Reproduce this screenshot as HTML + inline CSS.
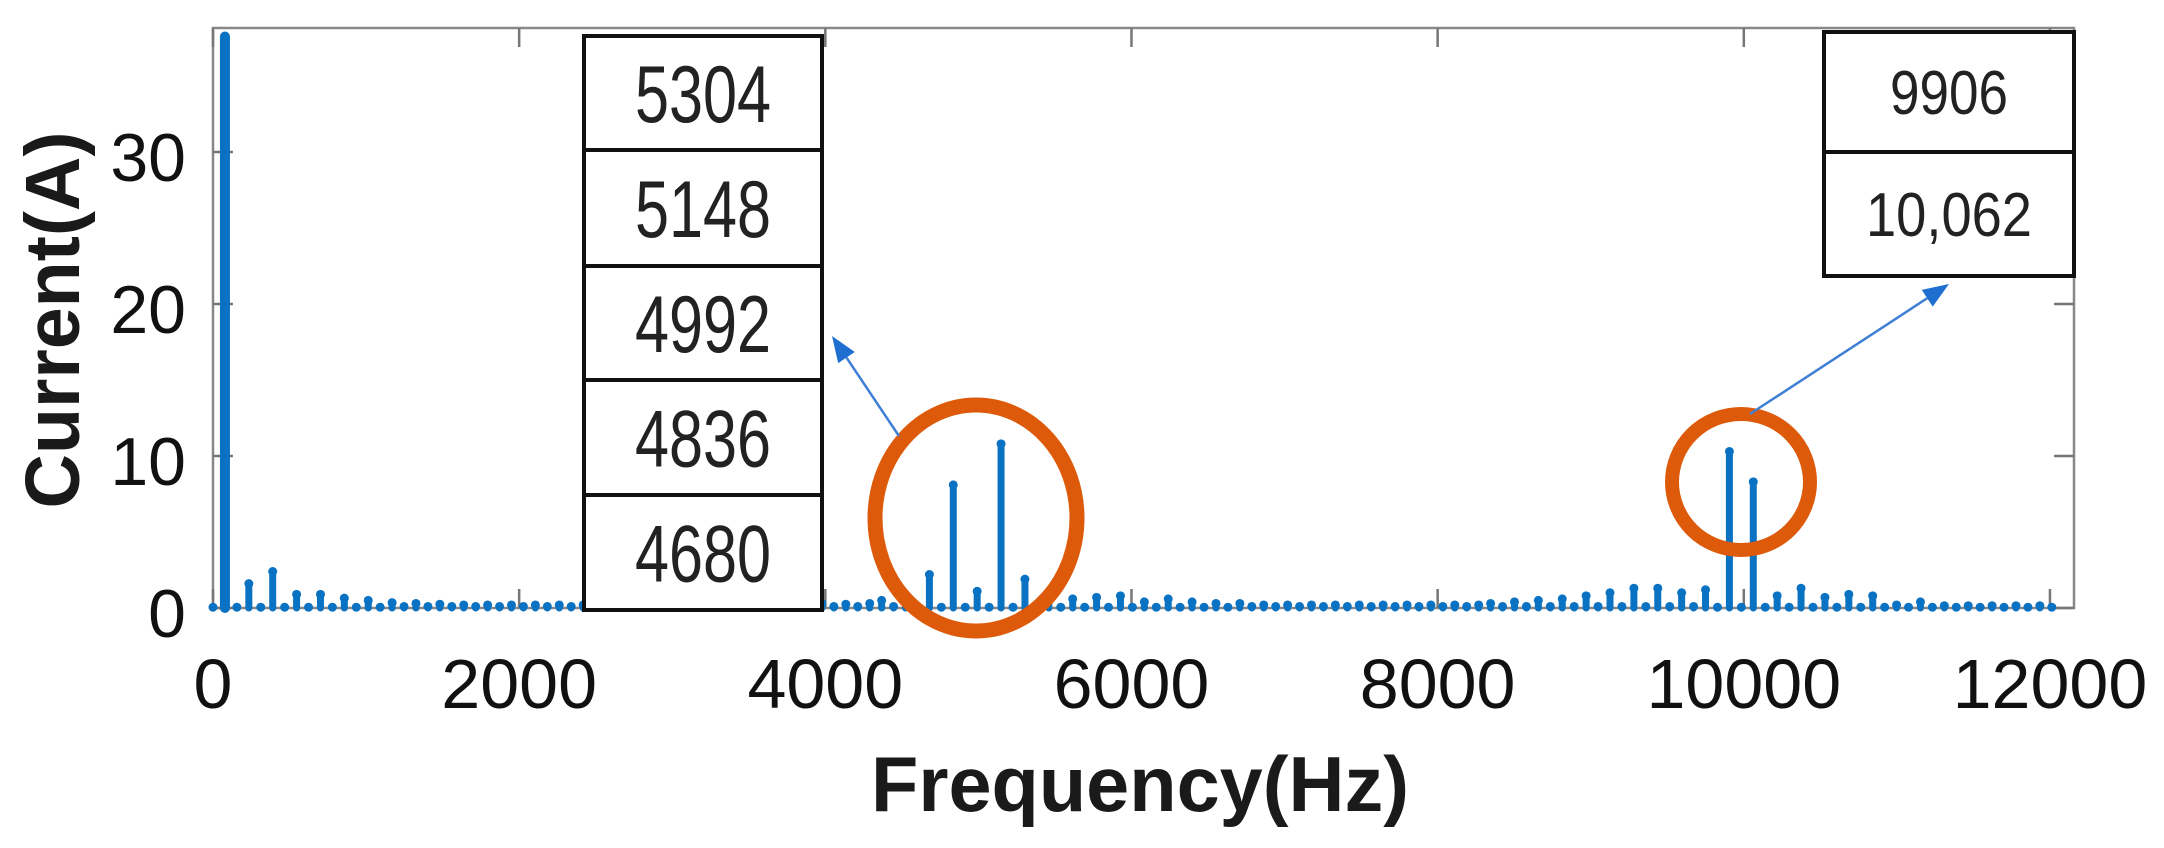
<!DOCTYPE html>
<html><head><meta charset="utf-8"><style>
html,body{margin:0;padding:0;background:#fff;}
svg{display:block;font-family:"Liberation Sans",Arial,sans-serif;}
</style></head><body>
<svg id="chart" width="2164" height="848" viewBox="0 0 2164 848" xmlns="http://www.w3.org/2000/svg">
<g id="frame"></g>
<g id="stems"></g>
<g id="annot"></g>
</svg>
<script>
const xTicks = [0, 2000, 4000, 6000, 8000, 10000, 12000];
const yTicks = [0, 10, 20, 30];
const stepHz = 78;
const amplitudes = [
0.05,37.6,0.05,1.6,0.05,2.4,0.05,0.9,0.05,0.9,
0.05,0.65,0.05,0.5,0.05,0.35,0.1,0.3,0.1,0.25,
0.1,0.2,0.1,0.2,0.1,0.2,0.1,0.2,0.1,0.2,
0.1,0.2,0.1,0.2,0.1,0.2,0.1,0.2,0.1,0.2,
0.1,0.2,0.1,0.2,0.1,0.2,0.1,0.2,0.1,0.25,
0.1,0.3,0.1,0.25,0.1,0.3,0.5,0.1,0.4,0.1,
2.2,0.05,8.1,0.05,1.1,0.05,10.8,0.05,1.9,0.05,
1.0,0.05,0.6,0.05,0.7,0.05,0.8,0.05,0.4,0.05,
0.6,0.05,0.4,0.05,0.3,0.05,0.3,0.1,0.2,0.1,
0.2,0.1,0.2,0.1,0.2,0.1,0.2,0.1,0.2,0.1,
0.2,0.1,0.2,0.1,0.2,0.1,0.2,0.3,0.1,0.4,
0.1,0.5,0.1,0.6,0.1,0.8,0.1,1.0,0.1,1.3,
0.1,1.3,0.1,1.0,0.1,1.2,0.05,10.3,0.05,8.3,
0.05,0.8,0.05,1.3,0.05,0.7,0.05,0.9,0.05,0.8,
0.05,0.2,0.05,0.4,0.05,0.15,0.05,0.15,0.05,0.15,
0.05,0.15,0.05,0.15,0.05
];
const leftBoxLabels = ["5304","5148","4992","4836","4680"];
const rightBoxLabels = ["9906","10,062"];

const NS="http://www.w3.org/2000/svg";
const X0=213, XPX=0.15308, Y0=608, YPX=15.2;
function xs(f){return X0+f*XPX;}
function ys(v){return Y0-v*YPX;}
function mk(tag,attrs,parent){const e=document.createElementNS(NS,tag);for(const k in attrs)e.setAttribute(k,attrs[k]);parent.appendChild(e);return e;}

const frame=document.getElementById('frame');
const fr=mk('rect',{x:213,y:28,width:1861,height:580,fill:'none',stroke:'#888','stroke-width':2.5},frame);


xTicks.forEach(t=>{
  const x=xs(t);
  const l1=mk('line',{x1:x,y1:608,x2:x,y2:589,stroke:'#777','stroke-width':2.5},frame);
  
  
  const l2=mk('line',{x1:x,y1:28,x2:x,y2:47,stroke:'#777','stroke-width':2.5},frame);
  
  
  const tx=mk('text',{x:x,y:708,'font-size':70,'text-anchor':'middle',fill:'#111'},frame);
  tx.textContent=String(t);
  
  
});
yTicks.forEach(t=>{
  const y=ys(t);
  const l1=mk('line',{x1:213,y1:y,x2:233,y2:y,stroke:'#777','stroke-width':2.5},frame);
  
  
  const l2=mk('line',{x1:2074,y1:y,x2:2054,y2:y,stroke:'#777','stroke-width':2.5},frame);
  
  
  const tx=mk('text',{x:186,y:y+29,'font-size':68,'text-anchor':'end',fill:'#111'},frame);
  tx.textContent=String(t);
  
  
});
const xt=mk('text',{x:1140,y:811,'font-size':78,'font-weight':'bold','text-anchor':'middle',fill:'#1a1a1a',textLength:538,lengthAdjust:'spacingAndGlyphs'},frame);
xt.textContent='Frequency(Hz)';


const yt=mk('text',{x:0,y:0,'font-size':77,'font-weight':'bold','text-anchor':'middle',fill:'#1a1a1a',textLength:377,lengthAdjust:'spacingAndGlyphs',transform:'translate(79,320) rotate(-90)'},frame);
yt.textContent='Current(A)';



const stems=document.getElementById('stems');
amplitudes.forEach((v,k)=>{
  const x=xs(k*stepHz), y=ys(v);
  const w = v>20?10:7;
  const s=mk('line',{x1:x,y1:Y0,x2:x,y2:y,stroke:'#0a72c2','stroke-width':w,'stroke-linecap':'round'},stems);
  
  
  const d=mk('circle',{cx:x,cy:y,r:4.5,fill:'#0a72c2'},stems);
  
  
});

const an=document.getElementById('annot');
const e1=mk('ellipse',{cx:976,cy:518,rx:101,ry:113,fill:'none',stroke:'#dd5a0a','stroke-width':15},an);


const e2=mk('ellipse',{cx:1741,cy:482,rx:69,ry:68,fill:'none',stroke:'#dd5a0a','stroke-width':14},an);


function arrow(x1,y1,x2,y2,name){
  const g=mk('g',{},an);
  
  
  const dx=x2-x1,dy=y2-y1,L=Math.hypot(dx,dy),ux=dx/L,uy=dy/L;
  const bx=x2-ux*26,by=y2-uy*26;
  mk('line',{x1:x1,y1:y1,x2:bx,y2:by,stroke:'#3f7fd6','stroke-width':2.5},g);
  mk('polygon',{points:`${x2},${y2} ${bx-uy*10},${by+ux*10} ${bx+uy*10},${by-ux*10}`,fill:'#1f6fd0'},g);
}
arrow(899,436,832,336,'arrow-to-left-box');
arrow(1750,414,1949,284,'arrow-to-right-box');

const lb=mk('g',{},an);


const lrows=[36,150,266,380,495,610];
mk('rect',{x:584,y:36,width:238,height:574,fill:'#fff',stroke:'#111','stroke-width':4},lb);
leftBoxLabels.forEach((t,i)=>{
  if(i>0) mk('line',{x1:584,y1:lrows[i],x2:822,y2:lrows[i],stroke:'#111','stroke-width':4},lb);
  const tx=mk('text',{x:703,y:(lrows[i]+lrows[i+1])/2+29,'font-size':81,'text-anchor':'middle',fill:'#222',textLength:136,lengthAdjust:'spacingAndGlyphs'},lb);
  tx.textContent=t;
  
  
});
const rb=mk('g',{},an);


const rrows=[32,152,276];
const rlen=[118,166];
mk('rect',{x:1824,y:32,width:250,height:244,fill:'#fff',stroke:'#111','stroke-width':4},rb);
mk('line',{x1:1824,y1:152,x2:2074,y2:152,stroke:'#111','stroke-width':4},rb);
rightBoxLabels.forEach((t,i)=>{
  const tx=mk('text',{x:1949,y:(rrows[i]+rrows[i+1])/2+22,'font-size':62,'text-anchor':'middle',fill:'#222',textLength:rlen[i],lengthAdjust:'spacingAndGlyphs'},rb);
  tx.textContent=t;
  
  
});
</script>
</body></html>
